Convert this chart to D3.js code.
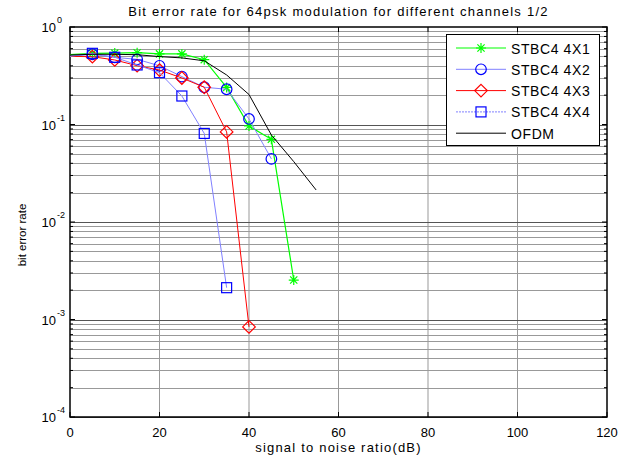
<!DOCTYPE html>
<html>
<head>
<meta charset="utf-8">
<script src="https://cdn.jsdelivr.net/npm/d3@7"></script>
<style>
  body { margin: 0; background: #fff; }
  text { font-family: "Liberation Sans", Arial, sans-serif; fill: #000; }
</style>
</head>
<body>
<svg id="chart" width="637" height="462"></svg>
<script>
// SNR values (dB) and BER for each curve
const snrGreen = [0, 5, 10, 15, 20, 25, 30, 35, 40, 45, 50];
const berGreen = [0.52, 0.537, 0.54, 0.545, 0.53, 0.53, 0.462, 0.24, 0.0966, 0.0705, 0.00254];

const snrCircle = [0, 5, 10, 15, 20, 25, 30, 35, 40, 45];
const berCircle = [0.5, 0.525, 0.488, 0.466, 0.4, 0.31, 0.241, 0.23, 0.114, 0.0444];

const snrDiamond = [0, 5, 10, 15, 20, 25, 30, 35, 40];
const berDiamond = [0.5, 0.496, 0.459, 0.401, 0.362, 0.3, 0.241, 0.084, 0.00084];

const snrSquare = [0, 5, 10, 15, 20, 25, 30, 35];
const berSquare = [0.5, 0.537, 0.489, 0.408, 0.34, 0.196, 0.081, 0.00212];

const snrOfdm = [0, 5, 10, 15, 20, 25, 30, 35, 40, 45, 50, 55];
const berOfdm = [0.516, 0.525, 0.525, 0.52, 0.497, 0.482, 0.45, 0.322, 0.203, 0.078, 0.0416, 0.0213];

const seriesNames = ["STBC4 4X1", "STBC4 4X2", "STBC4 4X3", "STBC4 4X4", "OFDM"];
const xTicks = [0, 20, 40, 60, 80, 100, 120];
const yDecades = [0, -1, -2, -3, -4];

const series = [
  { name: seriesNames[0], x: snrGreen, y: berGreen, line: "#00ff00", mark: "#00ff00", marker: "star", width: 1.2 },
  { name: seriesNames[1], x: snrCircle, y: berCircle, line: "#8080ff", mark: "#0000ff", marker: "circle", width: 1 },
  { name: seriesNames[2], x: snrDiamond, y: berDiamond, line: "#ff0000", mark: "#ff0000", marker: "diamond", width: 1 },
  { name: seriesNames[3], x: snrSquare, y: berSquare, line: "#8080ff", mark: "#0000ff", marker: "square", width: 1, legendDash: "2,1" },
  { name: seriesNames[4], x: snrOfdm, y: berOfdm, line: "#000000", mark: null, marker: null, width: 1 }
];

const svg = d3.select("#chart");
const mLeft = 70, mRight = 607, mTop = 27, mBottom = 417;

const x = d3.scaleLinear().domain([0, 120]).range([mLeft, mRight]);
const y = d3.scaleLog().domain([1e-4, 1]).range([mBottom, mTop]);

// grid
const grid = svg.append("g");
xTicks.slice(1, -1).forEach(t => {
  grid.append("line")
    .attr("x1", x(t)).attr("x2", x(t)).attr("y1", mTop).attr("y2", mBottom)
    .attr("stroke", "#999").attr("stroke-width", 1);
});
const minorVals = [];
yDecades.slice(1).forEach(e => {
  for (let m = 1; m <= 9; m++) minorVals.push(m * Math.pow(10, e));
});
minorVals.forEach(v => {
  const major = Math.abs(Math.log10(v) - Math.round(Math.log10(v))) < 1e-9;
  grid.append("line")
    .attr("x1", mLeft).attr("x2", mRight).attr("y1", Math.round(y(v)) + 0.5).attr("y2", Math.round(y(v)) + 0.5)
    .attr("stroke", major ? "#555" : "#999").attr("stroke-width", 1);
});

// axes box
svg.append("rect")
  .attr("x", mLeft).attr("y", mTop).attr("width", mRight - mLeft).attr("height", mBottom - mTop)
  .attr("fill", "none").attr("stroke", "#000").attr("stroke-width", 1.5);

// x ticks (bottom and top) and labels
const xAxisG = svg.append("g");
xTicks.forEach(t => {
  xAxisG.append("line").attr("x1", x(t)).attr("x2", x(t)).attr("y1", mBottom).attr("y2", mBottom - 5).attr("stroke", "#000");
  xAxisG.append("line").attr("x1", x(t)).attr("x2", x(t)).attr("y1", mTop).attr("y2", mTop + 5).attr("stroke", "#000");
  xAxisG.append("text").attr("x", x(t)).attr("y", mBottom + 20)
    .attr("text-anchor", "middle").attr("font-size", 13).text(t);
});

// y ticks (left and right) and labels
const yAxisG = svg.append("g");
minorVals.concat([1]).forEach(v => {
  const major = Math.abs(Math.log10(v) - Math.round(Math.log10(v))) < 1e-9;
  const len = major ? 5 : 3;
  const yy = y(v);
  yAxisG.append("line").attr("x1", mLeft).attr("x2", mLeft + len).attr("y1", yy).attr("y2", yy).attr("stroke", "#000");
  yAxisG.append("line").attr("x1", mRight).attr("x2", mRight - len).attr("y1", yy).attr("y2", yy).attr("stroke", "#000");
});
yDecades.forEach(e => {
  yAxisG.append("text").attr("x", 56).attr("y", y(Math.pow(10, e)) + 5)
    .attr("text-anchor", "end").attr("font-size", 13).text("10");
  yAxisG.append("text").attr("x", 57).attr("y", y(Math.pow(10, e)) - 4)
    .attr("font-size", 9).text(e);
});

// title and axis labels
svg.append("text").attr("x", (mLeft + mRight) / 2).attr("y", 16)
  .attr("text-anchor", "middle").attr("font-size", 13).attr("letter-spacing", 1.25)
  .text("Bit error rate for 64psk modulation for different channels 1/2");
svg.append("text").attr("x", (mLeft + mRight) / 2).attr("y", 452)
  .attr("text-anchor", "middle").attr("font-size", 13).attr("letter-spacing", 1.2)
  .text("signal to noise ratio(dB)");
svg.append("text").attr("transform", `translate(26,${(mTop + mBottom) / 2 + 13}) rotate(-90)`)
  .attr("text-anchor", "middle").attr("font-size", 11.5)
  .text("bit error rate");

// marker drawer
function drawMarker(g, type, cx, cy, color) {
  if (type === "star") {
    const r = 5, d = 3.6;
    const p = `M${cx - r},${cy}L${cx + r},${cy}M${cx},${cy - r}L${cx},${cy + r}` +
      `M${cx - d},${cy - d}L${cx + d},${cy + d}M${cx - d},${cy + d}L${cx + d},${cy - d}`;
    g.append("path").attr("d", p).attr("stroke", color).attr("stroke-width", 1.2).attr("fill", "none");
  } else if (type === "circle") {
    g.append("circle").attr("cx", cx).attr("cy", cy).attr("r", 5.3)
      .attr("stroke", color).attr("fill", "none").attr("stroke-width", 1.2);
  } else if (type === "diamond") {
    const r = 6.3;
    g.append("path").attr("d", `M${cx},${cy - r}L${cx + r},${cy}L${cx},${cy + r}L${cx - r},${cy}Z`)
      .attr("stroke", color).attr("fill", "none").attr("stroke-width", 1.2);
  } else if (type === "square") {
    const r = 5;
    g.append("rect").attr("x", cx - r).attr("y", cy - r).attr("width", 2 * r).attr("height", 2 * r)
      .attr("stroke", color).attr("fill", "none").attr("stroke-width", 1.2);
  }
}

// plotted series
const plot = svg.append("g");
const line = d3.line().x(d => x(d[0])).y(d => y(d[1]));
series.forEach(s => {
  const pts = s.x.map((v, i) => [v, s.y[i]]);
  plot.append("path").datum(pts).attr("d", line)
    .attr("fill", "none").attr("stroke", s.line).attr("stroke-width", s.width);
  if (s.marker) {
    const mg = plot.append("g");
    // markers on the axis edge are not shown (the run starts at 0 dB)
    pts.filter(p => p[0] > 0).forEach(p => drawMarker(mg, s.marker, x(p[0]), y(p[1]), s.mark));
  }
});

// legend
const lg = svg.append("g");
lg.append("rect").attr("x", 446.5).attr("y", 34.5).attr("width", 153).attr("height", 111)
  .attr("fill", "#fff").attr("stroke", "#000").attr("stroke-width", 1);
series.forEach((s, i) => {
  const yy = 48 + i * 21.3;
  lg.append("line").attr("x1", 456).attr("x2", 506).attr("y1", yy).attr("y2", yy)
    .attr("stroke", s.line).attr("stroke-width", s.width).attr("stroke-dasharray", s.legendDash || null);
  if (s.marker) drawMarker(lg, s.marker, 481, yy, s.mark);
  lg.append("text").attr("x", 511).attr("y", yy + 5.5).attr("font-size", 14).attr("letter-spacing", 0.6)
    .text(s.name);
});
</script>
</body>
</html>
